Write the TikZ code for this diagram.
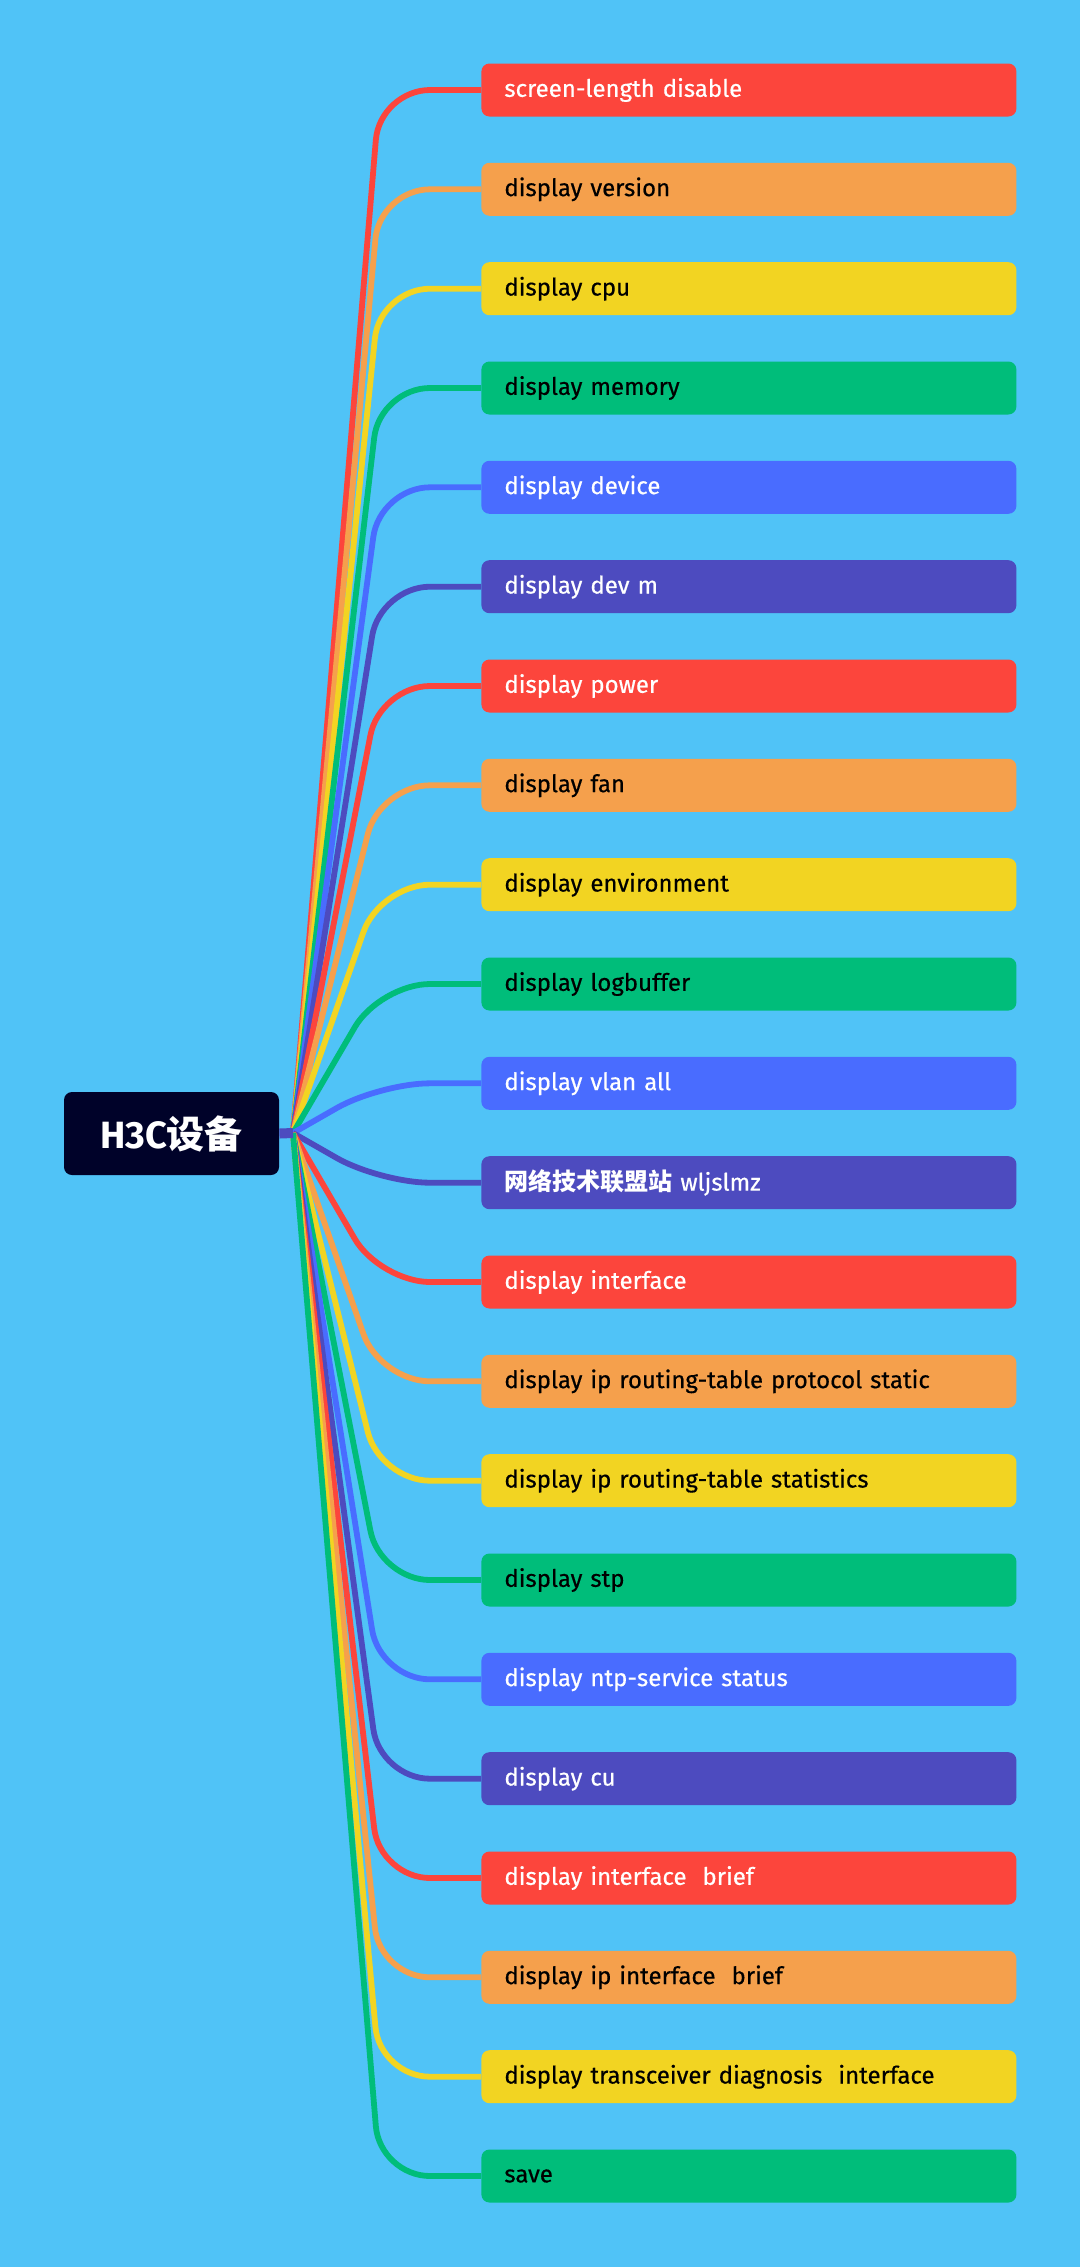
\documentclass[tikz,border=0pt]{standalone}
\usepackage{fontspec}
\setmainfont{Fira Sans}
\newfontfamily\leaffont{Fira Sans}[FakeBold=0.5]
\newfontfamily\cjk{Noto Sans CJK SC}
\definecolor{sky}{HTML}{50C3F7}
\definecolor{night}{HTML}{000229}
\definecolor{coral}{HTML}{FC453C}
\definecolor{apricot}{HTML}{F5A04C}
\definecolor{lemon}{HTML}{F2D422}
\definecolor{jade}{HTML}{00BD7A}
\definecolor{azure}{HTML}{496CFF}
\definecolor{indigo}{HTML}{4D4BBF}

\begin{document}
\begin{tikzpicture}[x=0.5pt,y=-0.5pt,
    leaf/.style={anchor=west,rounded corners=4pt,minimum height=26.5pt,
      text width=244.5pt,inner xsep=11.5pt,inner ysep=0pt,align=left,
      font=\leaffont\fontsize{12}{14}\selectfont},
    lcoral/.style={leaf,fill=coral,text=white},
    lapricot/.style={leaf,fill=apricot,text=black},
    llemon/.style={leaf,fill=lemon,text=black},
    ljade/.style={leaf,fill=jade,text=black},
    lazure/.style={leaf,fill=azure,text=white},
    lindigo/.style={leaf,fill=indigo,text=white},
    branch/.style={line width=2.9pt,rounded corners=25pt},
    bcoral/.style={branch,draw=coral},
    bapricot/.style={branch,draw=apricot},
    blemon/.style={branch,draw=lemon},
    bjade/.style={branch,draw=jade},
    bazure/.style={branch,draw=azure},
    bindigo/.style={branch,draw=indigo}]
  \fill[sky] (0,0) rectangle (1080,2267);

  % root
  \node[fill=night,text=white,rounded corners=4pt,minimum width=107.5pt,
    minimum height=41.5pt,font=\bfseries\fontsize{19}{22}\selectfont]
    (root) at (171.5,1133.5) {H3C{\cjk 设备}};
  \coordinate (hub) at (293,1133);

  % leaves
  \node[lcoral]   (screen)  at (481,90)     {screen-length disable};
  \node[lapricot] (version) at (481,189.3)  {display version};
  \node[llemon]   (cpu)     at (481,288.7)  {display cpu};
  \node[ljade]    (memory)  at (481,388)    {display memory};
  \node[lazure]   (device)  at (481,487.3)  {display device};
  \node[lindigo]  (devm)    at (481,586.7)  {display dev m};
  \node[lcoral]   (power)   at (481,686)    {display power};
  \node[lapricot] (fan)     at (481,785.3)  {display fan};
  \node[llemon]   (env)     at (481,884.7)  {display environment};
  \node[ljade]    (logbuf)  at (481,984)    {display logbuffer};
  \node[lazure]   (vlan)    at (481,1083.3) {display vlan all};
  \node[lindigo]  (site)    at (481,1182.7) {{\cjk\bfseries 网络技术联盟站} wljslmz};
  \node[lcoral]   (iface)   at (481,1282)   {display interface};
  \node[lapricot] (static)  at (481,1381.3) {display ip routing-table protocol static};
  \node[llemon]   (stats)   at (481,1480.7) {display ip routing-table statistics};
  \node[ljade]    (stp)     at (481,1580)   {display stp};
  \node[lazure]   (ntp)     at (481,1679.3) {display ntp-service status};
  \node[lindigo]  (cu)      at (481,1778.7) {display cu};
  \node[lcoral]   (ifbrief) at (481,1878)   {display interface~ brief};
  \node[lapricot] (ipbrief) at (481,1977.3) {display ip interface~ brief};
  \node[llemon]   (xcvr)    at (481,2076.7) {display transceiver diagnosis~ interface};
  \node[ljade]    (save)    at (481,2176)   {save};

  % branches
  \draw[bcoral]   (hub) -- ([xshift=-50.5pt]screen.west)  -- (screen.west);
  \draw[bapricot] (hub) -- ([xshift=-50.5pt]version.west) -- (version.west);
  \draw[blemon]   (hub) -- ([xshift=-50.5pt]cpu.west)     -- (cpu.west);
  \draw[bjade]    (hub) -- ([xshift=-50.5pt]memory.west)  -- (memory.west);
  \draw[bazure]   (hub) -- ([xshift=-50.5pt]device.west)  -- (device.west);
  \draw[bindigo]  (hub) -- ([xshift=-50.5pt]devm.west)    -- (devm.west);
  \draw[bcoral]   (hub) -- ([xshift=-50.5pt]power.west)   -- (power.west);
  \draw[bapricot] (hub) -- ([xshift=-50.5pt]fan.west)     -- (fan.west);
  \draw[blemon]   (hub) -- ([xshift=-50.5pt]env.west)     -- (env.west);
  \draw[bjade]    (hub) -- ([xshift=-50.5pt]logbuf.west)  -- (logbuf.west);
  \draw[bazure]   (hub) -- ([xshift=-50.5pt]vlan.west)    -- (vlan.west);
  \draw[bindigo]  (hub) -- ([xshift=-50.5pt]site.west)    -- (site.west);
  \draw[bcoral]   (hub) -- ([xshift=-50.5pt]iface.west)   -- (iface.west);
  \draw[bapricot] (hub) -- ([xshift=-50.5pt]static.west)  -- (static.west);
  \draw[blemon]   (hub) -- ([xshift=-50.5pt]stats.west)   -- (stats.west);
  \draw[bjade]    (hub) -- ([xshift=-50.5pt]stp.west)     -- (stp.west);
  \draw[bazure]   (hub) -- ([xshift=-50.5pt]ntp.west)     -- (ntp.west);
  \draw[bindigo]  (hub) -- ([xshift=-50.5pt]cu.west)      -- (cu.west);
  \draw[bcoral]   (hub) -- ([xshift=-50.5pt]ifbrief.west) -- (ifbrief.west);
  \draw[bapricot] (hub) -- ([xshift=-50.5pt]ipbrief.west) -- (ipbrief.west);
  \draw[blemon]   (hub) -- ([xshift=-50.5pt]xcvr.west)    -- (xcvr.west);
  \draw[bjade]    (hub) -- ([xshift=-50.5pt]save.west)    -- (save.west);
  \draw[indigo,line width=5pt] (root.east) -- (hub);
\end{tikzpicture}
\end{document}
